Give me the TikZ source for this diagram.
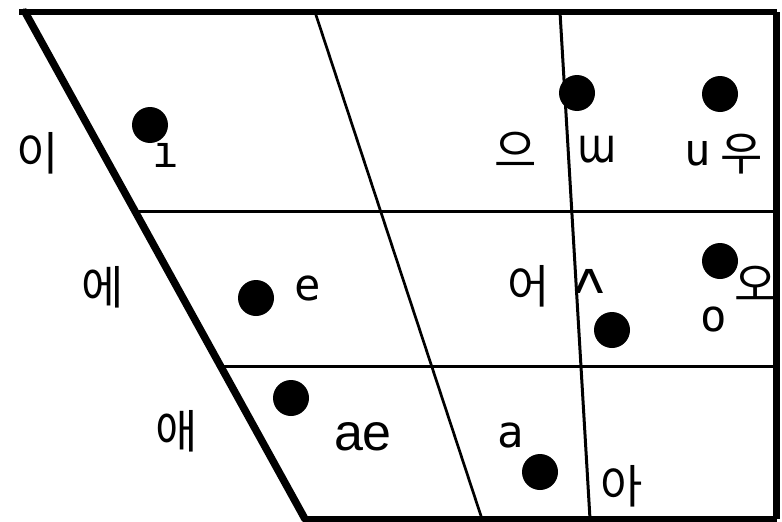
\documentclass[tikz,border=0pt]{standalone}
\usepackage{graphicx}
\usepackage{fontspec}
\newfontfamily\kor{Noto Sans CJK KR}
\newfontfamily\ipa{DejaVu Sans Mono}
\newfontfamily\ipap{DejaVu Sans}
\newfontfamily\arialf{Liberation Sans}
\begin{document}
\begin{tikzpicture}[x=1pt,y=-1pt,
  kr/.style={font=\kor\fontsize{46}{46}\selectfont, inner sep=0pt, anchor=base},
  lt/.style={font=\ipa\fontsize{44}{44}\selectfont, inner sep=0pt, anchor=base},
  ae/.style={font=\arialf\fontsize{52}{52}\selectfont, inner sep=0pt, anchor=base},
  dot/.style={circle, fill=black, minimum size=36pt, inner sep=0pt},
  framel/.style={line width=6pt},
  leftl/.style={line width=7.5pt, line cap=round},
  innerl/.style={line width=3pt},
  slopel/.style={line width=2.7pt}]
\useasboundingbox (0,0) rectangle (782,522);
% frame corners
\coordinate (TL) at (25,12);
\coordinate (TR) at (776.5,12);
\coordinate (BR) at (776.5,519);
\coordinate (BL) at (305,519);
\coordinate (TLx) at (19,12);
% inner lines
\coordinate (H1L) at (134,211);
\coordinate (H1R) at (776,211);
\coordinate (H2L) at (220,366.5);
\coordinate (H2R) at (776,366.5);
\coordinate (D2T) at (315,12);
\coordinate (D2B) at (482,519);
\coordinate (D3T) at (560,12);
\coordinate (D3B) at (590,519);
% frame
\draw[framel] (TLx) -- (TR);
\draw[line width=7pt] (TR) -- (BR);
\draw[framel] (BR) -- (BL);
\draw[leftl] (TL) -- (BL);
\draw[innerl] (H1L) -- (H1R);
\draw[innerl] (H2L) -- (H2R);
\draw[slopel] (D2T) -- (D2B);
\draw[innerl] (D3T) -- (D3B);
% Korean labels
\node[kr] (ki) at (38,170) {이};
\node[kr] (ke) at (103,304) {에};
\node[kr] (kae) at (177,448) {애};
\node[kr] (keo) at (529,303) {어};
\node[kr] (keu) at (516,167) {으};
\node[kr] (ku) at (742,170) {우};
\node[kr] (ko) at (756,301) {오};
\node[kr] (ka) at (622,503) {아};
% Latin / IPA labels
\node[lt] (li) at (166,167) {ı};
\node[lt] (le) at (308,300) {e};
\node[lt] (lo) at (714,331) {o};
\node[lt] (la) at (511,447) {a};
\node[lt, font=\ipap\fontsize{40}{40}\selectfont] (lw) at (597,162) {\scalebox{1}[1.2]{ɯ}};
\node[lt] (lu) at (698,165) {u};
\node[lt] (lv) at (589,293) {\scalebox{1.2}[1]{ʌ}};
\node[ae] (lae) at (363,450) {ae};
% vowel dots
\node[dot] (di) at (150,125) {};
\node[dot] (dw) at (577,93) {};
\node[dot] (du) at (720,94) {};
\node[dot] (de) at (256,298) {};
\node[dot] (do) at (720,261) {};
\node[dot] (dv) at (612,330) {};
\node[dot] (dae) at (291,398) {};
\node[dot] (da) at (540,472) {};
\end{tikzpicture}
\end{document}
